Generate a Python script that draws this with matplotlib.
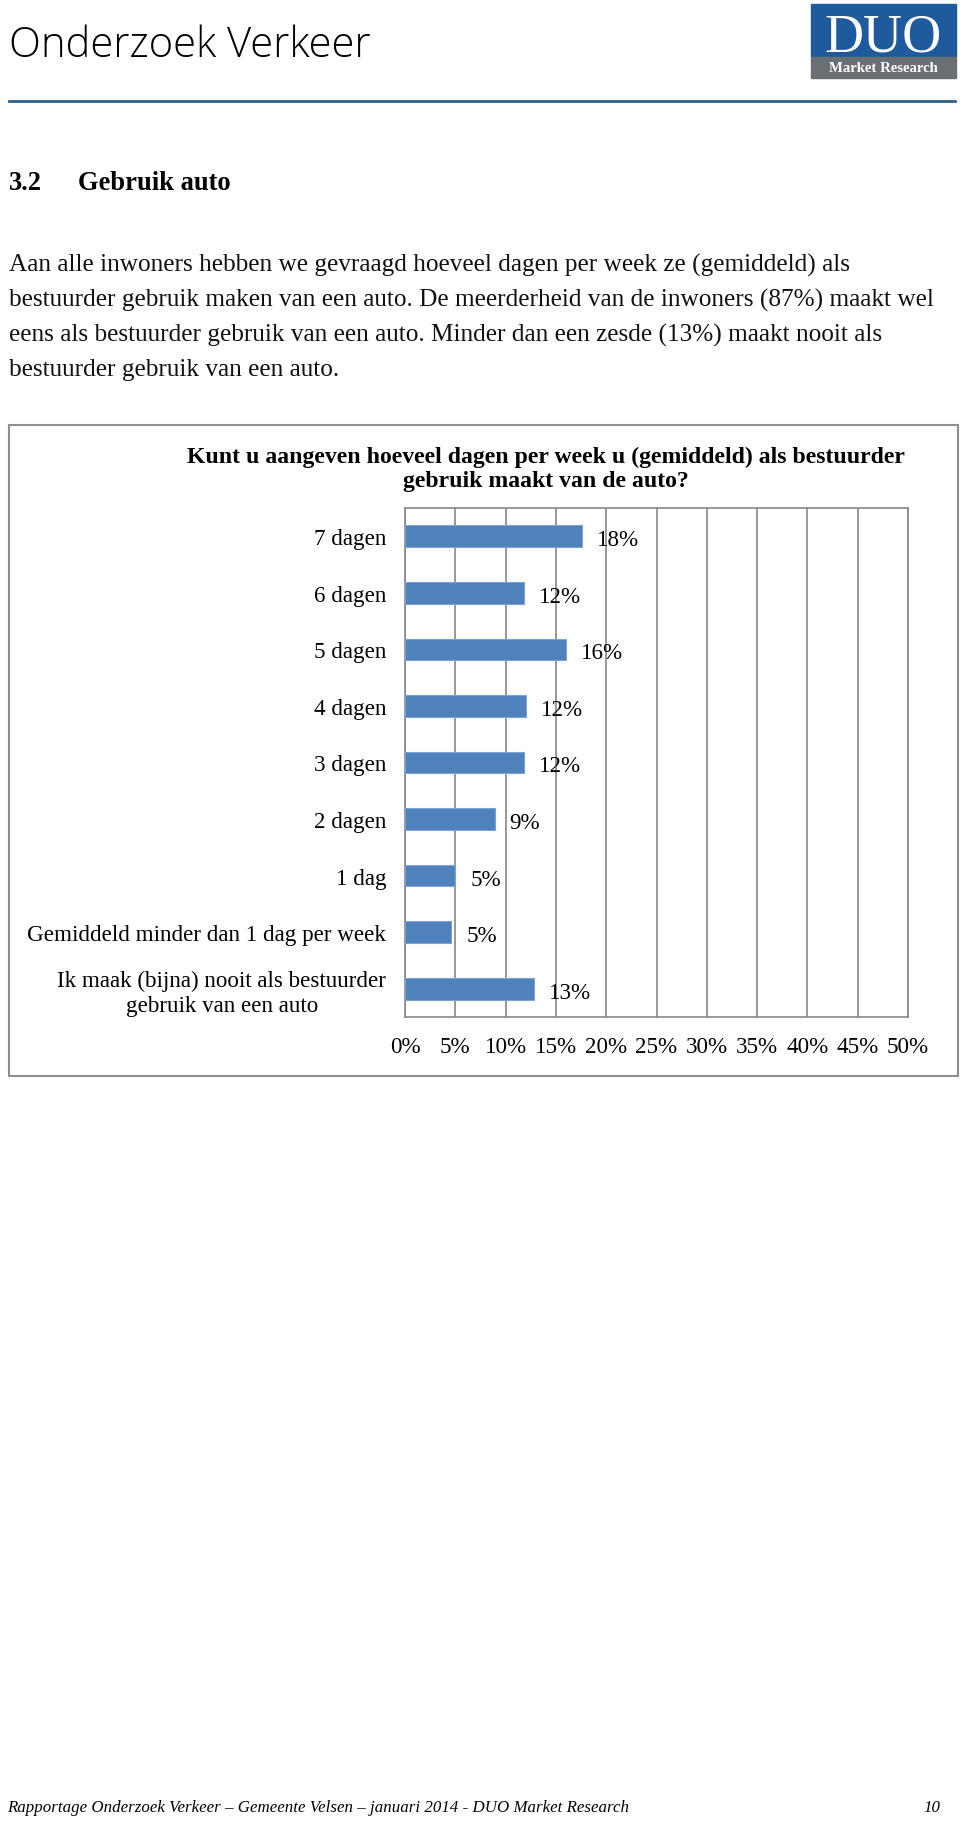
import matplotlib
matplotlib.use("Agg")
import matplotlib.pyplot as plt
from matplotlib.patches import Rectangle
from matplotlib.lines import Line2D

# --------------------------
# Data
# --------------------------
categories = [
    "7 dagen",
    "6 dagen",
    "5 dagen",
    "4 dagen",
    "3 dagen",
    "2 dagen",
    "1 dag",
    "Gemiddeld minder dan 1 dag per week",
    "Ik maak (bijna) nooit als bestuurder\ngebruik van een auto",
]
values = [17.6, 11.8, 16.0, 12.0, 11.8, 8.9, 5.0, 4.6, 12.8]
x_ticks = [0, 5, 10, 15, 20, 25, 30, 35, 40, 45, 50]
x_tick_labels = ["0%", "5%", "10%", "15%", "20%", "25%", "30%", "35%", "40%", "45%", "50%"]

chart_title = [
    "Kunt u aangeven hoeveel dagen per week u (gemiddeld) als bestuurder",
    "gebruik maakt van de auto?",
]
paragraph = [
    "Aan alle inwoners hebben we gevraagd hoeveel dagen per week ze (gemiddeld) als",
    "bestuurder gebruik maken van een auto. De meerderheid van de inwoners (87%) maakt wel",
    "eens als bestuurder gebruik van een auto. Minder dan een zesde (13%) maakt nooit als",
    "bestuurder gebruik van een auto.",
]
footer = "Rapportage Onderzoek Verkeer – Gemeente Velsen – januari 2014 - DUO Market Research"

# --------------------------
# Layout helpers (pixels -> figure fraction)
# --------------------------
W, H = 960, 1831
SERIF = "Liberation Serif"
BAR_BLUE = "#4F81BD"
GRID_GRAY = "#868686"

fig = plt.figure(figsize=(W / 100, H / 100), dpi=100)
renderer = fig.canvas.get_renderer()


def fx(x):
    return x / W


def fy(y):
    return 1 - y / H


def size_for(text, width_px, **kw):
    """font size (pt) so that text is width_px wide"""
    t = fig.text(0, 0, text, fontsize=10, **kw)
    w = t.get_window_extent(renderer).width
    t.remove()
    return 10 * width_px / w


def put(x, y, s, size, **kw):
    return fig.text(fx(x), fy(y), s, fontsize=size, **kw)


# --------------------------
# Page header
# --------------------------
HEAD = dict(family="Open Sans", weight="light")
hs = size_for("Onderzoek Verkeer", 361, **HEAD)
put(9, 57, "Onderzoek Verkeer", hs, va="baseline", color="black", **HEAD)

fig.add_artist(Rectangle((fx(811), fy(58)), 145 / W, 53 / H, color="#1E5A9C", transform=fig.transFigure))
fig.add_artist(Rectangle((fx(811), fy(79)), 145 / W, 21 / H, color="#6B6F74", transform=fig.transFigure))
ds = size_for("DUO", 118, family=SERIF)
put(883, 52, "DUO", ds, family=SERIF, ha="center", va="baseline", color="white")
ms = size_for("Market Research", 110, family=SERIF, weight="bold")
put(883, 69, "Market Research", ms, family=SERIF, weight="bold", ha="center", va="center", color="white")

fig.add_artist(Line2D([fx(9), fx(955)], [fy(102), fy(102)], color="#2F5F8F", lw=2, transform=fig.transFigure))

# section heading + paragraph
gs = size_for("Gebruik auto", 153, family=SERIF, weight="bold")
put(9, 190, "3.2", gs, family=SERIF, weight="bold", va="baseline")
put(78, 190, "Gebruik auto", gs, family=SERIF, weight="bold", va="baseline")

ps = size_for(paragraph[1], 927, family=SERIF)
for i, line in enumerate(paragraph):
    put(9, 272 + i * 34.7, line, ps, family=SERIF, va="baseline", color="#111111")

# --------------------------
# Chart
# --------------------------
fig.add_artist(Rectangle((fx(9), fy(1077)), 949 / W, 651 / H, fill=False,
                         edgecolor="#8F8F8F", lw=1.5, transform=fig.transFigure))

ts = size_for(chart_title[0], 722, family=SERIF, weight="bold")
put(546, 463, chart_title[0], ts, family=SERIF, weight="bold", ha="center", va="baseline")
put(546, 487, chart_title[1], ts, family=SERIF, weight="bold", ha="center", va="baseline")

ls = size_for(categories[7], 358, family=SERIF)

ax = fig.add_axes([fx(405), fy(1018), 503 / W, 509 / H])
ypos = list(range(len(categories)))
ax.barh(ypos, values, height=0.385, color=BAR_BLUE, edgecolor="#7FA3CF", lw=0.8, zorder=3)
for y, v in zip(ypos, values):
    ax.text(v + 1.5, y + 0.06, f"{v:.0f}%", va="center", ha="left",
            family=SERIF, fontsize=ls, zorder=4)

ax.set_xlim(0, 50)
ax.set_ylim(len(categories) - 0.5, -0.5)
ax.set_xticks(x_ticks)
ax.set_xticklabels(x_tick_labels, family=SERIF, fontsize=ls)
ax.set_yticks(ypos)
ax.set_yticklabels(categories, family=SERIF, fontsize=ls, multialignment="center")
ax.tick_params(axis="both", length=0)
ax.tick_params(axis="x", pad=14)
ax.tick_params(axis="y", pad=13.5)
ax.grid(axis="x", color=GRID_GRAY, lw=1.2, zorder=0)
ax.grid(axis="y", visible=False)
ax.set_axisbelow(True)
for sp in ax.spines.values():
    sp.set_color(GRID_GRAY)
    sp.set_linewidth(1.2)

# --------------------------
# Footer
# --------------------------
fs = size_for(footer, 620, family=SERIF, style="italic")
put(7, 1812, footer, fs, family=SERIF, style="italic", va="baseline")
put(940, 1812, "10", fs, family=SERIF, style="italic", ha="right", va="baseline")

fig.savefig("out.png", dpi=100)
